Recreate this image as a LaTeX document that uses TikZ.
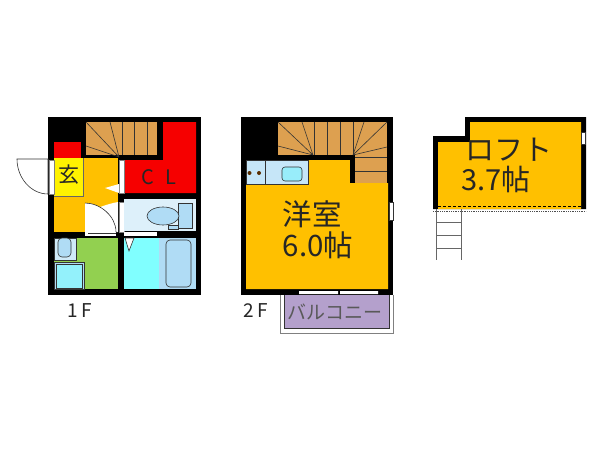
\documentclass[tikz,border=0pt]{standalone}
\usepackage{fontspec}
\setmainfont{Noto Sans CJK JP}
\definecolor{wallblack}{HTML}{000000}
\definecolor{roomorange}{HTML}{FFC000}
\definecolor{stairbrown}{HTML}{DDA050}
\definecolor{closetred}{HTML}{F60000}
\definecolor{paleblue}{HTML}{DDF0FA}
\definecolor{midblue}{HTML}{B0DCF5}
\definecolor{wetcyan}{HTML}{80FFFF}
\definecolor{bathgreen}{HTML}{92D050}
\definecolor{balconyviolet}{HTML}{B4A0CC}
\tikzset{
  thinline/.style={draw=black!80, line width=0.6pt},
  fixture/.style={thinline, fill=midblue},
  label/.style={inner sep=0pt, text=black!85},
}
\begin{document}
\begin{tikzpicture}[x=1pt, y=-1pt]
  \useasboundingbox (0, 0) rectangle (600, 450);

  % 1F
  \fill [wallblack] (48, 117) rectangle (201, 295);
  \fill [stairbrown] (86, 122) rectangle (157, 155);
  \draw [thinline] (119, 157) -- (86, 122) (119, 157) -- (110, 122) (119, 157) -- (86, 146);
  \draw [thinline] (122, 122) -- (122, 155) (134, 122) -- (134, 155) (147, 122) -- (147, 155);
  \fill [closetred] (163, 122) -- (196, 122) -- (196, 193) -- (124, 193) -- (124, 160) -- (163, 160) -- cycle;
  \fill [closetred] (54, 142) rectangle (81, 158);
  \fill [roomorange] (54, 158) rectangle (118, 232);
  \fill [yellow] (54, 158) rectangle (83, 196);
  \draw [thinline, draw=black!60] (54, 196) -- (83, 196) -- (83, 158);

  % doors
  \draw [thinline, draw=black!50, fill=white] (49, 160) rectangle (54, 194);
  \draw [thinline, draw=black!50, fill=white] (119, 160) rectangle (124, 193);
  \draw [thinline, draw=black!50, fill=white] (119, 202) rectangle (124, 232);
  \fill [white] (85, 232) rectangle (116, 236);
  \draw [thinline] (88, 233) -- (116, 233);
  \fill [white] (124, 232) rectangle (157, 236);
  \draw [thinline, fill=white] (48, 159) -- (17, 159) .. controls (17, 178) and (31, 194) .. (48, 194) -- cycle;
  \fill [white] (100, 207) .. controls (106, 205) and (112, 203) .. (118, 202) -- (118, 232) -- (112, 232) -- cycle;
  \fill [white] (85, 232) -- (85, 203) .. controls (100, 203) and (116, 216) .. (116, 232) -- cycle;
  \draw [thinline] (85, 203) .. controls (100, 203) and (116, 216) .. (116, 232);
  \fill [white] (119, 184) -- (105, 188) -- (119, 193) -- cycle;

  % toilet
  \fill [paleblue] (124, 199) rectangle (196, 231);
  \draw [fixture] (178, 203) rectangle (192, 228);
  \draw [fixture] (168, 225) rectangle (178, 229);
  \draw [fixture] (163, 216) ellipse (16 and 9);

  % wash and bath
  \fill [bathgreen] (54, 238) rectangle (118, 289);
  \draw [fixture, fill=paleblue!70!midblue] (54, 238) rectangle (76, 260);
  \draw [thinline, fill=midblue, rounded corners=4pt] (58, 238) rectangle (71, 257);
  \draw [fixture] (54, 262) rectangle (84, 289);
  \draw [thinline, fill=wetcyan!60!midblue] (56, 264) rectangle (82, 288);
  \fill [wetcyan] (124, 238) rectangle (159, 289);
  \draw [thinline, fill=white] (125, 238) -- (134, 238) -- (129, 251) -- cycle;
  \fill [midblue] (159, 238) rectangle (196, 289);
  \draw [thinline, fill=midblue, rounded corners=4pt] (166, 240) rectangle (191, 287);

  % 2F
  \fill [wallblack] (241, 117) rectangle (393, 295);
  \fill [stairbrown] (278, 122) rectangle (387, 155);
  \fill [stairbrown] (355, 155) rectangle (387, 183);
  \fill [roomorange] (246, 160) -- (350, 160) -- (350, 183) -- (388, 183) -- (388, 289) -- (246, 289) -- cycle;
  \fill [wallblack] (350, 155) rectangle (355, 183);
  \draw [thinline] (313, 155) -- (278, 122) (313, 155) -- (302, 122) (313, 155) -- (278, 146);
  \draw [thinline] (314, 122) -- (314, 155) (327, 122) -- (327, 155) (340, 122) -- (340, 155) (353, 122) -- (353, 155);
  \draw [thinline] (353, 155) -- (364, 122) (353, 155) -- (387, 122) (353, 155) -- (387, 147);
  \draw [thinline] (355, 157) -- (387, 157) (355, 171) -- (387, 171);
  \draw [fixture, fill=paleblue!50!midblue] (246, 160) rectangle (308, 184);
  \draw [thinline] (265, 160) -- (265, 184);
  \fill [black!65!orange] (249.5, 173) circle (2) (259, 173) circle (2);
  \draw [thinline, fill=wetcyan!50!midblue, rounded corners=3pt] (282, 167) rectangle (302, 181);
  \draw [thinline, fill=white] (389, 202) rectangle (393, 220);

  % balcony
  \draw [thinline, draw=black!50] (280, 295) -- (280, 333) -- (393, 333) -- (393, 295);
  \draw [thinline, fill=balconyviolet] (284, 295) -- (284, 328) -- (389, 328) -- (389, 295);
  \fill [white] (299, 291) rectangle (338, 294) (340, 291) rectangle (378, 294);

  % loft
  \fill [wallblack] (433, 209) -- (433, 136) -- (465, 136) -- (465, 117) -- (586, 117) -- (586, 209) -- cycle;
  \fill [roomorange] (438, 209) -- (438, 142) -- (470, 142) -- (470, 122) -- (581, 122) -- (581, 209) -- cycle;
  \draw [thinline, fill=white] (581.5, 132) rectangle (585, 144);
  \draw [black, line width=0.7pt, densely dashed] (438, 206) -- (581, 206);
  \draw [black!70, line width=0.8pt, densely dotted] (433, 211) -- (586, 211);
  \draw [thinline, draw=black!60] (436, 209) -- (436, 260) (461, 209) -- (461, 260);
  \draw [thinline, draw=black!60] (436, 222) -- (461, 222) (436, 235) -- (461, 235) (436, 248) -- (461, 248);

  % labels
  \node [label, font=\fontsize{21}{21}\selectfont] (genkan) at (69, 175) {玄};
  \node [label, font=\fontsize{20}{20}\selectfont] (closet) at (159, 177) {C\hspace{11pt}L};
  \node [label, font=\fontsize{19}{19}\selectfont] (floorone) at (80, 311) {1\,F};
  \node [label, font=\fontsize{19}{19}\selectfont] (floortwo) at (256, 311) {2\,F};
  \node [label, text=black!65, font=\fontsize{19}{19}\selectfont] (balcony) at (335, 312) {バルコニー};
  \node [label, align=left, font=\fontsize{29.5}{31}\selectfont] (western) at (318, 230) {洋室\\6.0帖};
  \node [label, align=left, font=\fontsize{29}{30}\selectfont] (loftroom) at (506.5, 165) {\hspace{4pt}ロフト\\3.7帖};
\end{tikzpicture}
\end{document}
